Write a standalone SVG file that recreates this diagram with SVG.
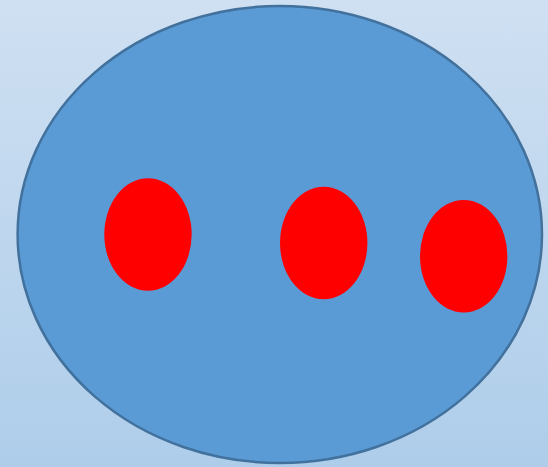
<svg xmlns="http://www.w3.org/2000/svg" width="548" height="467" viewBox="0 0 548 467">
<defs>
<linearGradient id="bg" x1="0" y1="0" x2="0" y2="1">
<stop offset="0" stop-color="#cfe0f2"/>
<stop offset="1" stop-color="#aecdea"/>
</linearGradient>
<style>
.outer{fill:#5b9bd5;stroke:#41719c;stroke-width:2.5}
.dot{fill:#ff0000;stroke:none}
</style>
</defs>
<rect x="0" y="0" width="548" height="467" fill="url(#bg)"/>
<g id="outer">
<ellipse class="outer" cx="279.8" cy="234.5" rx="262.2" ry="228.5"/>
</g>
<g id="dot1"><ellipse class="dot" cx="148" cy="234.5" rx="43.7" ry="56.2"/></g>
<g id="dot2"><ellipse class="dot" cx="323.7" cy="243" rx="43.7" ry="56.3"/></g>
<g id="dot3"><ellipse class="dot" cx="463.7" cy="256.3" rx="43.7" ry="56.3"/></g>
<g id="connectors"/>
</svg>
